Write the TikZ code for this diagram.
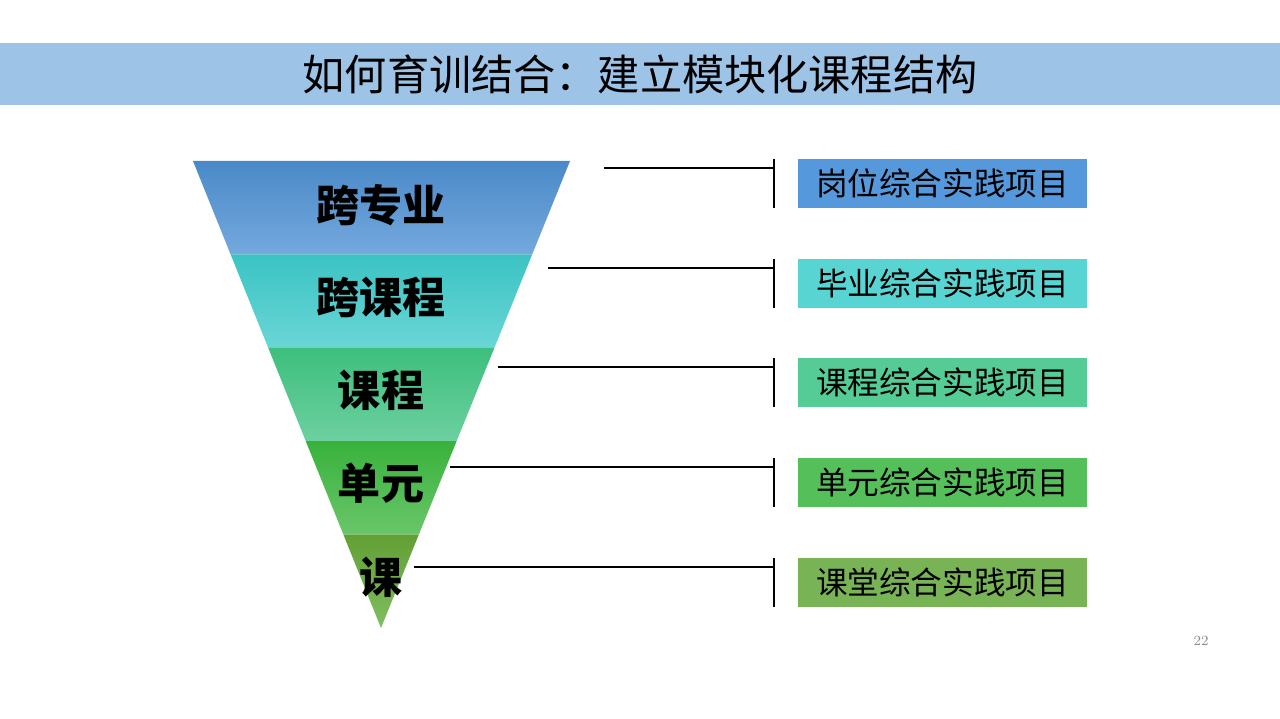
\documentclass[tikz,border=0pt]{standalone}
\usepackage{fontspec}
\usepackage{tikz}
\usepackage{xcolor}
\usetikzlibrary{calc}
\newfontfamily\cjk{Noto Sans CJK SC}

\definecolor{titlebar}{HTML}{9DC3E6}
\definecolor{bandAt}{HTML}{4A89C8}\definecolor{bandAb}{HTML}{74A9DD}
\definecolor{bandBt}{HTML}{3BC3C3}\definecolor{bandBb}{HTML}{6AD6D6}
\definecolor{bandCt}{HTML}{3DBF7D}\definecolor{bandCb}{HTML}{6DD0A0}
\definecolor{bandDt}{HTML}{38B23C}\definecolor{bandDb}{HTML}{6AC66A}
\definecolor{bandEt}{HTML}{62A035}\definecolor{bandEb}{HTML}{80BD60}
\definecolor{itemA}{HTML}{5599DC}
\definecolor{itemB}{HTML}{58D4D2}
\definecolor{itemC}{HTML}{55CC96}
\definecolor{itemD}{HTML}{55BF5A}
\definecolor{itemE}{HTML}{78B455}

\tikzset{
    title-text/.style = {font=\cjk\fontsize{24}{24}\selectfont, text=black},
    band-label/.style = {font=\cjk\bfseries\fontsize{24.5}{24.5}\selectfont, text=black},
    item-box/.style = {rectangle, minimum width=5.78cm, minimum height=0.98cm, inner sep=0pt, font=\cjk\fontsize{18}{18}\selectfont, text=black},
    link-line/.style = {draw=black, line width=0.8pt},
}

\begin{document}
\begin{tikzpicture}[x=0.02cm, y=-0.02cm]
\useasboundingbox[fill=white] (0,0) rectangle (1280,719);
% title bar
\fill[titlebar] (0,43) rectangle (1280,105);
\node[title-text] (title) at (640,74) {如何育训结合：建立模块化课程结构};

% inverted triangle
\coordinate (tl) at (193,161);
\coordinate (tr) at (570,161);
\coordinate (apex) at (381,628);
\foreach \ta/\tb/\ca/\cb in {0/0.2/bandAt/bandAb, 0.2/0.4/bandBt/bandBb, 0.4/0.6/bandCt/bandCb, 0.6/0.8/bandDt/bandDb, 0.8/1/bandEt/bandEb}
  \shade[top color=\ca, bottom color=\cb] ($(tl)!\ta!(apex)$) -- ($(tr)!\ta!(apex)$) -- ($(tr)!\tb!(apex)$) -- ($(tl)!\tb!(apex)$) -- cycle;

\node[band-label] (lvl1) at (381,205) {跨专业};
\node[band-label] (lvl2) at (381,297) {跨课程};
\node[band-label] (lvl3) at (381,390) {课程};
\node[band-label] (lvl4) at (381,483) {单元};
\node[band-label] (lvl5) at (381,577) {课};

% connectors and project boxes
\foreach \i/\sx/\ly/\name/\col in {1/604/168/岗位/itemA, 2/548/268/毕业/itemB, 3/498/367/课程/itemC, 4/450/467/单元/itemD, 5/414/567/课堂/itemE}{
  \coordinate (start\i) at (\sx,\ly);
  \coordinate (bartop\i) at (774,\ly-9);
  \coordinate (barbot\i) at (774,\ly+40);
  \node[item-box, fill=\col] (item\i) at (942.5,\ly+15.5) {\name 综合实践项目};
  \draw[link-line] (start\i) -- (start\i -| bartop\i);
  \draw[link-line] (bartop\i) -- (barbot\i);
}

% page number
\node[text=black!45, font=\fontsize{8}{8}\selectfont] (page) at (1201,641) {22};
\end{tikzpicture}
\end{document}
